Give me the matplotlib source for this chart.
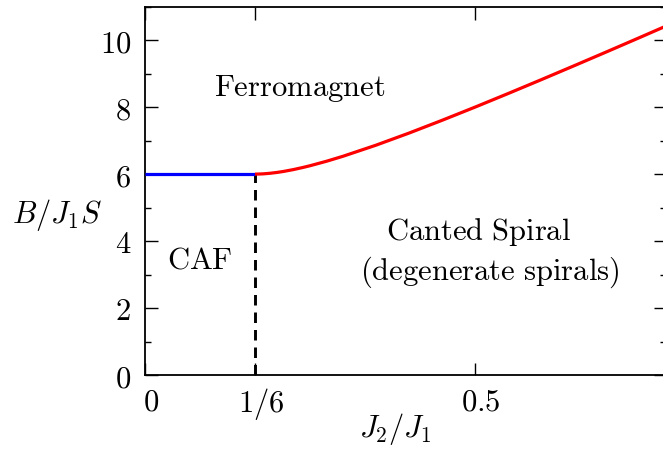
import numpy as np
import matplotlib
matplotlib.use("Agg")
import matplotlib.pyplot as plt
from matplotlib.ticker import FixedLocator, MultipleLocator
from matplotlib.transforms import ScaledTranslation

plt.rcParams['mathtext.fontset'] = 'cm'
plt.rcParams['font.family'] = 'serif'
plt.rcParams['font.serif'] = ['DejaVu Serif']

# CAF / ferromagnet boundary (flat saturation field)
caf_x = [0.0, 1/6]
caf_y = [6.0, 6.0]

# Canted spiral / ferromagnet boundary
spiral_x = [1/6, 0.175, 0.18, 0.19, 0.20, 0.21, 0.225, 0.24, 0.25, 0.275, 0.30,
            0.35, 0.40, 0.45, 0.50, 0.55, 0.60, 0.65, 0.70, 0.75, 0.79]
spiral_y = [6.000, 6.004, 6.009, 6.026, 6.050, 6.080, 6.136, 6.202, 6.250, 6.384, 6.533,
            6.864, 7.225, 7.606, 8.000, 8.405, 8.817, 9.235, 9.657, 10.083, 10.427]

# CAF / canted spiral boundary
sep_x = [1/6, 1/6]
sep_y = [0.0, 6.0]

x_ticks = [0, 1/6, 0.5]
x_ticklabels = [r'$\mathrm{0}$', r'$\mathrm{1/6}$', r'$\mathrm{0.5}$']
y_ticks = [0, 2, 4, 6, 8, 10]

W, H, DPI = 663, 453, 100
fig = plt.figure(figsize=(W / DPI, H / DPI), dpi=DPI)
ax = fig.add_axes([145 / W, 78 / H, 0.79 * 660 / W, 368.3 / H])

ax.plot(caf_x, caf_y, color='#0000ff', lw=2.3, solid_capstyle='butt', zorder=3)
ax.plot(spiral_x, spiral_y, color='#ff0000', lw=2.3, solid_capstyle='butt', zorder=3)
ax.plot(sep_x, sep_y, color='black', lw=2.1, ls=(0, (3.6, 2.4)), zorder=2)

ax.set_xlim(0, 0.79)
ax.set_ylim(0, 11)

ax.xaxis.set_major_locator(FixedLocator(x_ticks))
ax.set_xticklabels(x_ticklabels)
ax.yaxis.set_major_locator(FixedLocator(y_ticks))
ax.set_yticklabels([rf'$\mathrm{{{v}}}$' for v in y_ticks])
ax.yaxis.set_minor_locator(MultipleLocator(1))

ax.tick_params(axis='both', which='major', direction='in', length=9, width=1.0,
               top=True, right=True, labelsize=22, pad=8)
ax.tick_params(axis='y', which='minor', direction='in', length=4.5, width=1.0,
               right=True)
ax.tick_params(axis='y', which='major', pad=10)

# nudge x tick labels slightly to the right
offset = ScaledTranslation(6 / DPI, 0, fig.dpi_scale_trans)
for lab in ax.get_xticklabels():
    lab.set_transform(lab.get_transform() + offset)

for s in ax.spines.values():
    s.set_linewidth(1.3)

ax.set_xlabel(r'$J_2/J_1$', fontsize=22, va='center')
ax.xaxis.set_label_coords((395 - 145) / (0.79 * 660), -(429 - 375) / 368.3)

ax.set_ylabel(r'$B/J_1S$', fontsize=22, rotation=0, va='center', ha='center')
ax.yaxis.set_label_coords(-(145 - 57) / (0.79 * 660), (375 - 215) / 368.3)

ax.text(0.235, 8.57, r'$\mathrm{Ferromagnet}$', fontsize=22, ha='center', va='center')
ax.text(0.083, 3.43, r'$\mathrm{CAF}$', fontsize=22, ha='center', va='center')
ax.text(0.505, 4.27, r'$\mathrm{Canted\ Spiral}$', fontsize=22, ha='center', va='center')
ax.text(0.523, 3.07, r'$\mathrm{(degenerate\ spirals)}$', fontsize=22, ha='center', va='center')

fig.savefig('out.png', dpi=DPI)
